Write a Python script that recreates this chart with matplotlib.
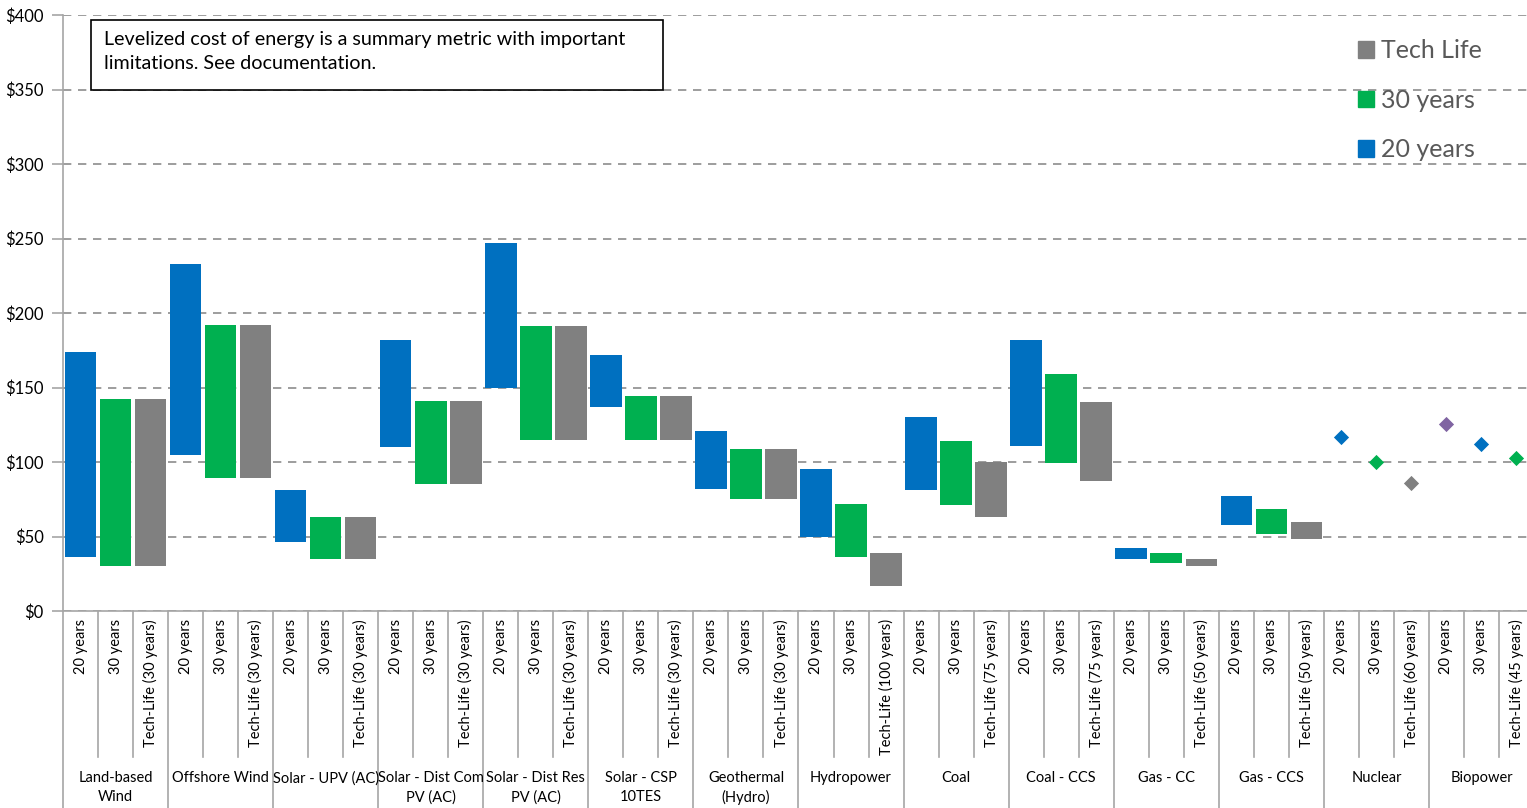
import matplotlib.pyplot as plt
from matplotlib.patches import Rectangle, Patch
from matplotlib.lines import Line2D

plt.rcParams['font.family'] = ['Lato', 'DejaVu Sans']

# technology groups and the lifetime cases inside each one
groups = ["Land-based\nWind", "Offshore Wind", "Solar - UPV (AC)", "Solar - Dist Com\nPV (AC)",
          "Solar - Dist Res\nPV (AC)", "Solar - CSP\n10TES", "Geothermal\n(Hydro)", "Hydropower",
          "Coal", "Coal - CCS", "Gas - CC", "Gas - CCS", "Nuclear", "Biopower"]
tech_life = ["30 years", "30 years", "30 years", "30 years", "30 years", "30 years", "30 years",
             "100 years", "75 years", "75 years", "50 years", "50 years", "60 years", "45 years"]

# LCOE ranges ($/MWh): low and high for 20 yr, 30 yr and tech-life cases
low_20 = [36, 105, 46, 110, 150, 137, 82, 50, 81, 111, 35, 58]
high_20 = [174, 233, 81, 182, 247, 172, 121, 95, 130, 182, 42, 77]
low_30 = [30, 89, 35, 85, 115, 115, 75, 36, 71, 99, 32, 52]
high_30 = [142, 192, 63, 141, 191, 144, 109, 72, 114, 159, 39, 68.5]
low_tl = [30, 89, 35, 85, 115, 115, 75, 17, 63, 87, 30, 48]
high_tl = [142, 192, 63, 141, 191, 144, 109, 39, 100, 140, 35, 60]

# single-value technologies
nuclear_pts = [117, 100, 86]
biopower_pts = [125.5, 112, 103]

blue = '#0070C0'
green = '#00B050'
grey = '#808080'
purple = '#8064A2'
line_c = '#A6A6A6'
text_c = '#000000'

fig = plt.figure(figsize=(15.27, 8.08), dpi=100)
W, H = 1527, 808
ax = fig.add_axes([63 / W, (H - 611) / H, (1534 - 63) / W, (611 - 15) / H])

bw = 0.9
for i in range(len(low_20)):
    x0 = i * 3
    ax.bar(x0 + 0.5, high_20[i] - low_20[i], bottom=low_20[i], width=bw, color=blue, zorder=3)
    ax.bar(x0 + 1.5, high_30[i] - low_30[i], bottom=low_30[i], width=bw, color=green, zorder=3)
    ax.bar(x0 + 2.5, high_tl[i] - low_tl[i], bottom=low_tl[i], width=bw, color=grey, zorder=3)

n0 = 12 * 3
for j, (v, c) in enumerate(zip(nuclear_pts, [blue, green, grey])):
    ax.scatter(n0 + j + 0.5, v, marker='D', s=60, color=c, zorder=4, linewidths=0)
b0 = 13 * 3
for j, (v, c) in enumerate(zip(biopower_pts, [purple, blue, green])):
    ax.scatter(b0 + j + 0.5, v, marker='D', s=60, color=c, zorder=4, linewidths=0)

ax.set_xlim(0, 42)
ax.set_ylim(0, 400)
ax.set_yticks(range(0, 401, 50))
ax.set_yticklabels(['$%d' % v for v in range(0, 401, 50)], fontsize=12, color=text_c)
ax.tick_params(axis='y', length=8, color=line_c, width=1.2, pad=6)
ax.set_xticks([])
ax.grid(axis='y', linestyle=(0, (5, 4)), color='#8C8C8C', linewidth=1.2, zorder=0)
for s in ['top', 'right']:
    ax.spines[s].set_visible(False)
ax.spines['left'].set_color(line_c)
ax.spines['bottom'].set_color(line_c)
ax.spines['left'].set_linewidth(1.2)
ax.spines['bottom'].set_linewidth(1.2)

# multi-level category axis below the plot
ax_h = 611 - 15
inner_bot = -(757 - 611) / ax_h
outer_bot = -(808 - 611) / ax_h
trans = ax.get_xaxis_transform()
for k in range(42 + 1):
    bottom = outer_bot if k % 3 == 0 else inner_bot
    ax.add_line(Line2D([k, k], [0, bottom], transform=trans, color=line_c, lw=1.2, clip_on=False))

for g, name in enumerate(groups):
    labels = ["20 years", "30 years", "Tech-Life (%s)" % tech_life[g]]
    for j, lab in enumerate(labels):
        ax.text(g * 3 + j + 0.5, -(619 - 611) / ax_h, lab, transform=trans, rotation=90,
                ha='center', va='top', fontsize=10.5, color=text_c)
    ax.text(g * 3 + 1.5, -(771 - 611) / ax_h, name, transform=trans, ha='center', va='top',
            fontsize=10.5, color=text_c, linespacing=1.45)

# note box
fig.add_artist(Rectangle((91 / W, (H - 90) / H), (663 - 91) / W, 70 / H, transform=fig.transFigure,
                         facecolor='white', edgecolor='black', lw=1.2, zorder=5))
fig.text(104 / W, (H - 31) / H, "Levelized cost of energy is a summary metric with important\nlimitations. See documentation.",
         ha='left', va='top', fontsize=14.2, color=text_c, linespacing=1.5, zorder=6)

handles = [Patch(color=grey, label='Tech Life'), Patch(color=green, label='30 years'),
           Patch(color=blue, label='20 years')]
ax.legend(handles=handles, loc='upper left', bbox_to_anchor=((1335 - 63) / (1534 - 63), 1.0 - 2 / ax_h),
          frameon=False, fontsize=18, labelcolor='#595959', handlelength=0.65, handleheight=0.65,
          handletextpad=0.3, labelspacing=1.05)

fig.savefig('out.png', dpi=100)
